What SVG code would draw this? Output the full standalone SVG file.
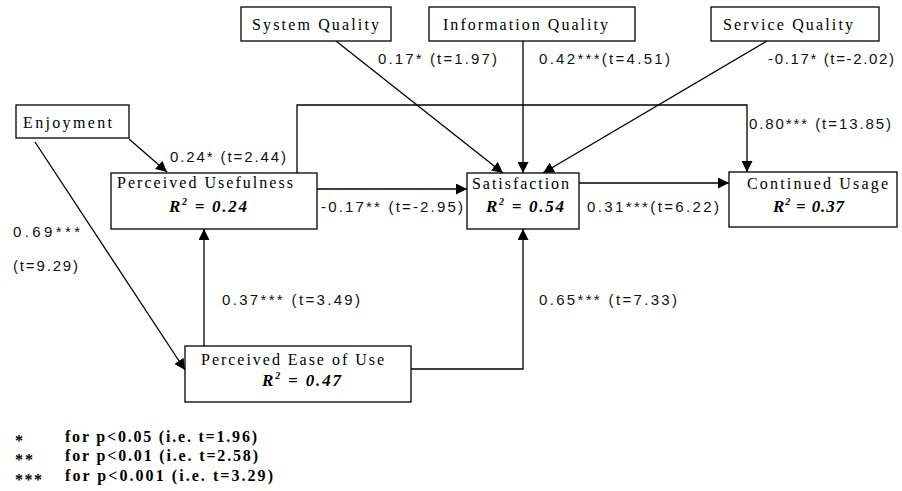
<svg xmlns="http://www.w3.org/2000/svg" width="902" height="491" viewBox="0 0 902 491">
<style>
.box{fill:#fff;stroke:#000;stroke-width:1.3}
.node{font-family:"Liberation Serif",serif;font-size:16px;fill:#000}
.r2{font-family:"Liberation Serif",serif;font-size:17px;font-weight:bold;font-style:italic;fill:#000}
.lbl{font-family:"Liberation Sans",Arial,sans-serif;font-size:15px;fill:#111}
.leg{font-family:"Liberation Serif",serif;font-size:16px;font-weight:bold;fill:#000}
.edge{stroke:#000;stroke-width:1.3;fill:none}
</style>
<defs>
<marker id="ah" markerWidth="11" markerHeight="11" refX="11" refY="5.5" orient="auto" markerUnits="userSpaceOnUse">
<path d="M0,0 L11,5.5 L0,11 z" fill="#000"/>
</marker>
</defs>
<rect width="902" height="491" fill="#fff"/>
<g id="connectors">
<line class="edge" x1="336" y1="41" x2="503" y2="173" marker-end="url(#ah)"/>
<line class="edge" x1="523" y1="41" x2="523" y2="173" marker-end="url(#ah)"/>
<line class="edge" x1="767" y1="41" x2="543" y2="173" marker-end="url(#ah)"/>
<polyline class="edge" points="297,173 297,105 747,105 747,172" marker-end="url(#ah)"/>
<line class="edge" x1="129" y1="139" x2="167" y2="172" marker-end="url(#ah)"/>
<line class="edge" x1="35" y1="142" x2="185" y2="370" marker-end="url(#ah)"/>
<line class="edge" x1="204" y1="346" x2="204" y2="229" marker-end="url(#ah)"/>
<line class="edge" x1="317" y1="189" x2="467" y2="189" marker-end="url(#ah)"/>
<line class="edge" x1="579" y1="183" x2="729" y2="183" marker-end="url(#ah)"/>
<polyline class="edge" points="411,369 523,369 523,229" marker-end="url(#ah)"/>
</g>
<g id="edge-labels">
<text class="lbl" x="378" y="64" textLength="119" lengthAdjust="spacing">0.17* (t=1.97)</text>
<text class="lbl" x="539" y="64" textLength="131" lengthAdjust="spacing">0.42***(t=4.51)</text>
<text class="lbl" x="768" y="64" textLength="126" lengthAdjust="spacing">-0.17* (t=-2.02)</text>
<text class="lbl" x="749" y="129" textLength="142" lengthAdjust="spacing">0.80*** (t=13.85)</text>
<text class="lbl" x="170" y="162" textLength="116" lengthAdjust="spacing">0.24* (t=2.44)</text>
<text class="lbl" x="321" y="212" textLength="142" lengthAdjust="spacing">-0.17** (t=-2.95)</text>
<text class="lbl" x="587" y="212" textLength="132" lengthAdjust="spacing">0.31***(t=6.22)</text>
<text class="lbl" x="13" y="237" textLength="67" lengthAdjust="spacing">0.69***</text>
<text class="lbl" x="13" y="271" textLength="65" lengthAdjust="spacing">(t=9.29)</text>
<text class="lbl" x="222" y="305" textLength="138" lengthAdjust="spacing">0.37*** (t=3.49)</text>
<text class="lbl" x="539" y="305" textLength="138" lengthAdjust="spacing">0.65*** (t=7.33)</text>
</g>
<g id="system-quality">
<rect class="box" x="241" y="7" width="150" height="34"/>
<text class="node" x="252" y="30" textLength="127" lengthAdjust="spacing">System Quality</text>
</g>
<g id="information-quality">
<rect class="box" x="429" y="7" width="206" height="34"/>
<text class="node" x="443" y="30" textLength="165" lengthAdjust="spacing">Information Quality</text>
</g>
<g id="service-quality">
<rect class="box" x="711" y="7" width="168" height="34"/>
<text class="node" x="723" y="30" textLength="130" lengthAdjust="spacing">Service Quality</text>
</g>
<g id="enjoyment">
<rect class="box" x="16" y="105" width="113" height="33"/>
<text class="node" x="23" y="128" textLength="89" lengthAdjust="spacing">Enjoyment</text>
</g>
<g id="perceived-usefulness">
<rect class="box" x="111" y="173" width="206" height="56"/>
<text class="node" x="117" y="188" textLength="176" lengthAdjust="spacing">Perceived Usefulness</text>
<text class="r2" x="169" y="212" textLength="78" lengthAdjust="spacing">R<tspan font-size="10" dy="-7">2</tspan><tspan dy="7"> = 0.24</tspan></text>
</g>
<g id="satisfaction">
<rect class="box" x="467" y="173" width="112" height="56"/>
<text class="node" x="472" y="189" textLength="97" lengthAdjust="spacing">Satisfaction</text>
<text class="r2" x="486" y="212" textLength="78" lengthAdjust="spacing">R<tspan font-size="10" dy="-7">2</tspan><tspan dy="7"> = 0.54</tspan></text>
</g>
<g id="continued-usage">
<rect class="box" x="729" y="172" width="168" height="55"/>
<text class="node" x="747" y="189" textLength="141" lengthAdjust="spacing">Continued Usage</text>
<text class="r2" x="773" y="212" textLength="71" lengthAdjust="spacing">R<tspan font-size="10" dy="-7">2</tspan><tspan dy="7"> = 0.37</tspan></text>
</g>
<g id="perceived-ease-of-use">
<rect class="box" x="185" y="346" width="226" height="56"/>
<text class="node" x="201" y="365" textLength="183" lengthAdjust="spacing">Perceived Ease of Use</text>
<text class="r2" x="262" y="386" textLength="79" lengthAdjust="spacing">R<tspan font-size="10" dy="-7">2</tspan><tspan dy="7"> = 0.47</tspan></text>
</g>
<g id="legend">
<text class="leg" x="15" y="446">*</text>
<text class="leg" x="65" y="442" textLength="192" lengthAdjust="spacing">for p&lt;0.05 (i.e. t=1.96)</text>
<text class="leg" x="15" y="465" textLength="18" lengthAdjust="spacing">**</text>
<text class="leg" x="65" y="461" textLength="193" lengthAdjust="spacing">for p&lt;0.01 (i.e. t=2.58)</text>
<text class="leg" x="15" y="485" textLength="27" lengthAdjust="spacing">***</text>
<text class="leg" x="65" y="481" textLength="208" lengthAdjust="spacing">for p&lt;0.001 (i.e. t=3.29)</text>
</g>
</svg>
